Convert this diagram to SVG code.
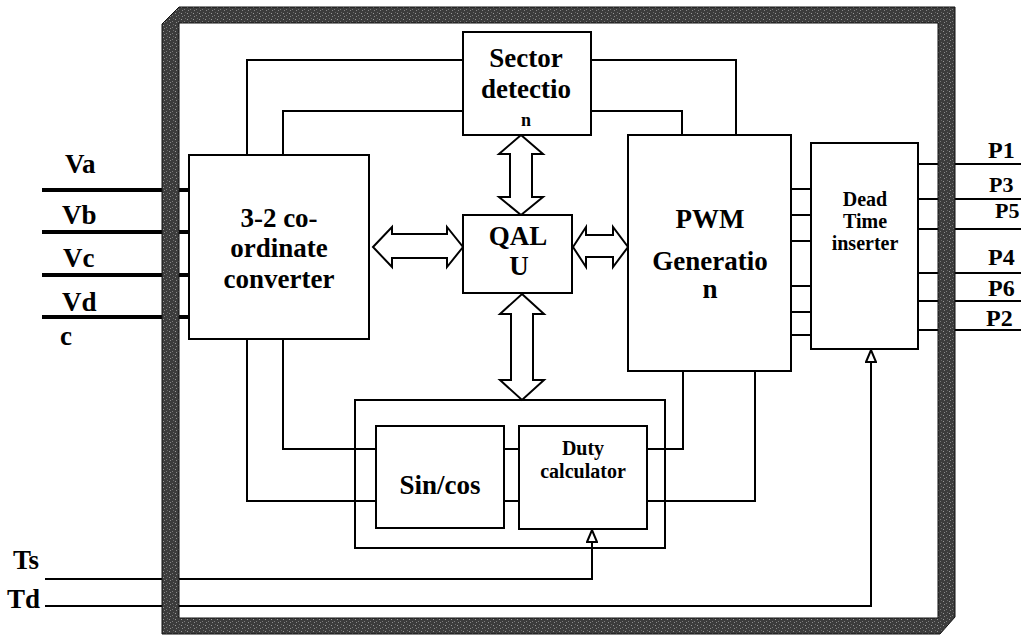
<svg xmlns="http://www.w3.org/2000/svg" width="1021" height="635" viewBox="0 0 1021 635">
<defs>
<style>
.box{fill:#fff;stroke:#000;stroke-width:2}
.frame{fill:none;stroke:#000;stroke-width:2}
.ln{fill:none;stroke:#000;stroke-width:2}
.thick{fill:none;stroke:#000;stroke-width:4}
.arr{fill:#fff;stroke:#000;stroke-width:2;stroke-linejoin:miter}
.t{font-family:"Liberation Serif","Times New Roman",serif;font-weight:bold;fill:#000}
.big{font-size:27px}
.pl{font-size:24px}
.ps{font-size:22px}
.sm{font-size:20px}
</style>
<marker id="tri" viewBox="0 0 14 12" refX="13" refY="6" markerWidth="14" markerHeight="12" markerUnits="userSpaceOnUse" orient="auto">
<path d="M1,1 L13,6 L1,11 Z" fill="#fff" stroke="#000" stroke-width="2"/>
</marker>
<pattern id="speck" width="6" height="6" patternUnits="userSpaceOnUse">
<rect width="6" height="6" fill="#3c3c3c"/>
<rect x="1" y="1" width="1" height="1" fill="#9a9a9a"/>
<rect x="4" y="3" width="1" height="1" fill="#7a7a7a"/>
<rect x="2" y="4" width="1" height="1" fill="#888"/>
<rect x="5" y="0" width="1" height="1" fill="#6a6a6a"/>
</pattern>
</defs>
<rect width="1021" height="635" fill="#fff"/>

<g id="connectors">
<path class="thick" d="M42,190 H189 M42,232 H189 M42,275 H189 M42,317 H189"/>
<path class="ln" d="M247,155 V60 H463 M591,60 H736 V135"/>
<path class="ln" d="M283,155 V111 H463 M591,111 H682 V135"/>
<path class="ln" d="M247,339 V501 H376"/>
<path class="ln" d="M283,339 V449 H376"/>
<path class="ln" d="M504,449 H519 M504,501 H519"/>
<path class="ln" d="M647,449 H683 V371"/>
<path class="ln" d="M647,501 H755 V371"/>
<path class="ln" d="M791,189 H811 M791,215 H811 M791,241 H811 M791,286 H811 M791,312 H811 M791,335 H811"/>
<path class="ln" d="M918,164 H1021 M918,199 H1021 M918,229 H1021 M918,273 H1021 M918,301 H1021 M918,330 H1021"/>
<path class="ln" d="M45,579 H592 V530" marker-end="url(#tri)"/>
<path class="ln" d="M45,606 H871 V350" marker-end="url(#tri)"/>
<polygon class="arr" points="521,135 543,154 532,154 532,197 543,197 521,215 499,197 510,197 510,154 499,154"/>
<polygon class="arr" points="522,294 544,314 533,314 533,380 544,380 522,400 500,380 511,380 511,314 500,314"/>
<polygon class="arr" points="373,247 392,227 392,234 447,234 447,227 463,247 447,267 447,258 392,258 392,267"/>
<polygon class="arr" points="573,247 586,227 586,235 613,235 613,227 628,247 613,267 613,257 586,257 586,267"/>
</g>

<g id="frame">
<path d="M162,24 L179,7 L955,7 L955,617 L940,634 L162,634 Z M179,23 L179,618 L938,618 L938,23 Z" fill="url(#speck)" fill-rule="evenodd" stroke="#111" stroke-width="1"/>
</g>

<g id="converter">
<rect class="box" x="189" y="155" width="180" height="184"/>
<text class="t big" text-anchor="middle" x="279" y="227">3-2 co-</text>
<text class="t big" text-anchor="middle" x="279" y="257">ordinate</text>
<text class="t big" text-anchor="middle" x="279" y="288">converter</text>
</g>

<g id="sector">
<rect class="box" x="463" y="32" width="128" height="103"/>
<text class="t big" text-anchor="middle" x="526" y="67">Sector</text>
<text class="t big" text-anchor="middle" x="526" y="98">detectio</text>
<text class="t" font-size="18" text-anchor="middle" x="526" y="126">n</text>
</g>

<g id="qalu">
<rect class="box" x="463" y="215" width="109" height="78"/>
<text class="t big" text-anchor="middle" x="518" y="245">QAL</text>
<text class="t big" text-anchor="middle" x="519" y="275">U</text>
</g>

<g id="pwm">
<rect class="box" x="628" y="135" width="163" height="236"/>
<text class="t big" text-anchor="middle" x="710" y="228">PWM</text>
<text class="t big" text-anchor="middle" x="710" y="270">Generatio</text>
<text class="t big" text-anchor="middle" x="710" y="298">n</text>
</g>

<g id="deadtime">
<rect class="box" x="811" y="143" width="107" height="206"/>
<text class="t sm" text-anchor="middle" x="865" y="206">Dead</text>
<text class="t sm" text-anchor="middle" x="865" y="228">Time</text>
<text class="t sm" text-anchor="middle" x="865" y="250">inserter</text>
</g>

<g id="container">
<rect class="frame" x="355" y="400" width="310" height="148"/>
</g>

<g id="sincos">
<rect class="box" x="376" y="426" width="128" height="102"/>
<text class="t big" text-anchor="middle" x="440" y="494">Sin/cos</text>
</g>

<g id="duty">
<rect class="box" x="519" y="426" width="128" height="103"/>
<text class="t sm" text-anchor="middle" x="583" y="455">Duty</text>
<text class="t sm" text-anchor="middle" x="583" y="478">calculator</text>
</g>

<g id="labels">
<text class="t big" x="65" y="173">Va</text>
<text class="t big" x="62" y="224">Vb</text>
<text class="t big" x="63" y="267">Vc</text>
<text class="t big" x="62" y="311">Vd</text>
<text class="t big" x="60" y="345">c</text>
<text class="t big" x="13" y="569">Ts</text>
<text class="t big" x="7" y="608">Td</text>
<text class="t pl" x="988" y="158">P1</text>
<text class="t ps" x="989" y="192">P3</text>
<text class="t ps" x="995" y="218">P5</text>
<text class="t pl" x="988" y="265">P4</text>
<text class="t pl" x="988" y="296">P6</text>
<text class="t pl" x="986" y="326">P2</text>
</g>
</svg>
